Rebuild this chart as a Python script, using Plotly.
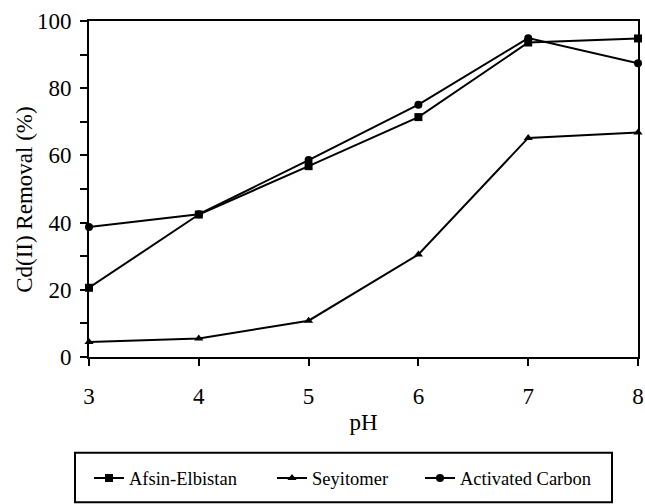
import plotly.graph_objects as go

ph = [3, 4, 5, 6, 7, 8]
afsin_elbistan = [20.6, 42.4, 56.8, 71.4, 93.6, 94.8]
seyitomer = [4.5, 5.5, 10.8, 30.5, 65.2, 66.8]
activated_carbon = [38.7, 42.5, 58.6, 75.1, 94.9, 87.4]

series_names = ["Afsin-Elbistan", "Seyitomer", "Activated Carbon"]
series_values = [afsin_elbistan, seyitomer, activated_carbon]
series_symbols = ["square", "triangle-up", "circle"]

W, H = 645, 504
ML, MR, MT, MB = 89, 7, 21, 143
PW, PH = W - ML - MR, H - MT - MB


def px_x(p):
    return (p - ML) / PW


def px_y(p):
    return (H - MB - p) / PH


FONT = "Times New Roman"
legend_keys = ["legend", "legend2", "legend3"]
legend_left_px = [89, 272, 420]

fig = go.Figure()
for name, vals, sym, lg in zip(series_names, series_values, series_symbols, legend_keys):
    fig.add_trace(go.Scatter(
        x=ph, y=vals, name=name, mode="lines+markers",
        line=dict(color="black", width=2),
        marker=dict(symbol=sym, size=8, color="black"),
        cliponaxis=False, legend=lg,
    ))

tick_font = dict(family=FONT, size=23, color="black")
title_font = dict(family=FONT, size=23, color="black")

fig.update_xaxes(
    range=[3, 8], tickvals=ph, automargin=False,
    title_text="pH", title_font=title_font, title_standoff=6,
    showgrid=False, zeroline=False, showline=True, linecolor="black",
    linewidth=2, ticks="outside", tickcolor="black", tickwidth=1.5,
    ticklen=7, mirror=True, tickfont=tick_font, ticklabelstandoff=10,
)
fig.update_yaxes(
    range=[0, 100], tickvals=[0, 20, 40, 60, 80, 100], automargin=False,
    minor=dict(tickvals=[10, 30, 50, 70, 90], ticks="outside", ticklen=7,
               tickcolor="black", tickwidth=1.5),
    showgrid=False, zeroline=False, showline=True, linecolor="black",
    linewidth=2, ticks="outside", tickcolor="black", tickwidth=1.5,
    ticklen=7, mirror=True, tickfont=tick_font, ticklabelstandoff=4,
)

# Vertical y-axis title, set slightly below the plot's mid-height
fig.add_annotation(
    text="Cd(II) Removal (%)", textangle=-90, showarrow=False,
    xref="paper", yref="paper", x=px_x(25), y=px_y(202),
    xanchor="center", yanchor="middle", font=title_font,
)

# Frame around the legend row
fig.add_shape(
    type="rect", xref="paper", yref="paper",
    x0=px_x(75), x1=px_x(612), y0=px_y(508), y1=px_y(458),
    line=dict(color="black", width=2), fillcolor="rgba(0,0,0,0)",
)

legend_style = dict(
    orientation="h", xanchor="left", y=px_y(484), yanchor="middle",
    font=dict(family=FONT, size=18.5, color="black"),
    bgcolor="rgba(0,0,0,0)", itemwidth=30,
)
layout_legends = {
    lg: dict(x=px_x(left), **legend_style)
    for lg, left in zip(legend_keys, legend_left_px)
}

fig.update_layout(
    width=W, height=H,
    margin=dict(l=ML, r=MR, t=MT, b=MB),
    paper_bgcolor="white", plot_bgcolor="white",
    font=dict(family=FONT, size=18, color="black"),
    showlegend=True,
    **layout_legends,
)

fig.write_html("out.html")
